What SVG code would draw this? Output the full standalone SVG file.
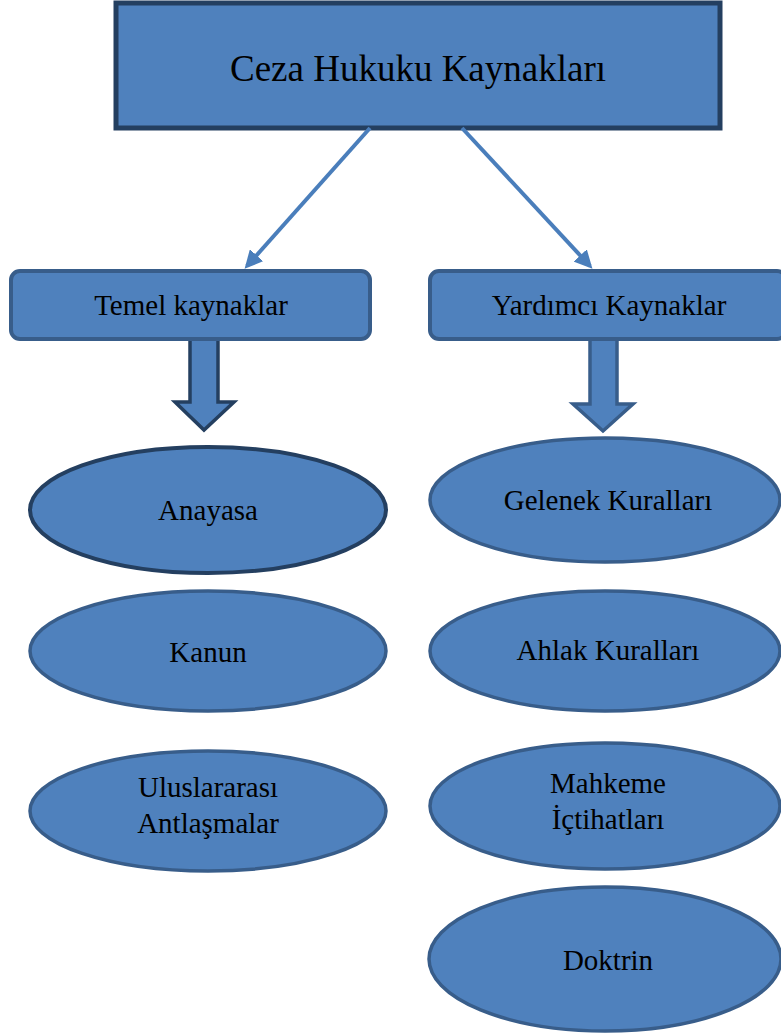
<svg xmlns="http://www.w3.org/2000/svg" width="781" height="1033" viewBox="0 0 781 1033">
<style>
.t{font-family:"Liberation Serif","Times New Roman",serif;fill:#000;text-anchor:middle}
.fill{fill:#4F81BD}
.dk{stroke:#243F60}
.md{stroke:#385D8A}
.conn{stroke:#4A7EBB;stroke-width:4;fill:none}
</style>
<defs>
<marker id="ah" viewBox="0 0 10 10" refX="8" refY="5" markerWidth="4.5" markerHeight="4.5" markerUnits="strokeWidth" orient="auto">
<path d="M0,0 L10,5 L0,10 z" fill="#4A7EBB"/>
</marker>
</defs>
<g id="root">
<rect x="116" y="3" width="604" height="125" class="fill dk" stroke-width="5"/>
<text class="t" x="418" y="81" font-size="37">Ceza Hukuku Kaynakları</text>
</g>
<g id="connectors">
<line x1="370" y1="128" x2="247" y2="266" class="conn" marker-end="url(#ah)"/>
<line x1="462" y1="128" x2="590" y2="266" class="conn" marker-end="url(#ah)"/>
<path d="M190,339 L218,339 L218,402 L234,402 L204,430 L175,402 L190,402 Z" class="fill dk" stroke-width="3.5"/>
<path d="M590,339 L617,339 L617,404 L633,404 L603,431 L573,404 L590,404 Z" class="fill md" stroke-width="3.5"/>
</g>
<g id="temel">
<rect x="11" y="271" width="359" height="68" rx="9" class="fill md" stroke-width="4"/>
<text class="t" x="191" y="315" font-size="29">Temel kaynaklar</text>
</g>
<g id="yardimci">
<rect x="430" y="271" width="356" height="68" rx="9" class="fill md" stroke-width="4"/>
<text class="t" x="609" y="315" font-size="29">Yardımcı Kaynaklar</text>
</g>
<g id="anayasa">
<ellipse cx="208" cy="510" rx="178" ry="63" class="fill dk" stroke-width="4"/>
<text class="t" x="208" y="520" font-size="29">Anayasa</text>
</g>
<g id="kanun">
<ellipse cx="208" cy="651" rx="178" ry="60" class="fill md" stroke-width="3.5"/>
<text class="t" x="208" y="662" font-size="29">Kanun</text>
</g>
<g id="uluslararasi">
<ellipse cx="208" cy="811" rx="178" ry="60" class="fill md" stroke-width="3.5"/>
<text class="t" x="208" y="797" font-size="29">Uluslararası</text>
<text class="t" x="208" y="833" font-size="29">Antlaşmalar</text>
</g>
<g id="gelenek">
<ellipse cx="605" cy="500" rx="175" ry="62" class="fill md" stroke-width="3.5"/>
<text class="t" x="608" y="510" font-size="29">Gelenek Kuralları</text>
</g>
<g id="ahlak">
<ellipse cx="605" cy="651" rx="175" ry="60" class="fill md" stroke-width="3.5"/>
<text class="t" x="608" y="660" font-size="29">Ahlak Kuralları</text>
</g>
<g id="mahkeme">
<ellipse cx="605" cy="806" rx="175" ry="63" class="fill md" stroke-width="3.5"/>
<text class="t" x="608" y="793" font-size="29">Mahkeme</text>
<text class="t" x="608" y="829" font-size="29">İçtihatları</text>
</g>
<g id="doktrin">
<ellipse cx="605" cy="959" rx="176" ry="72" class="fill md" stroke-width="3.5"/>
<text class="t" x="608" y="970" font-size="29">Doktrin</text>
</g>
</svg>
